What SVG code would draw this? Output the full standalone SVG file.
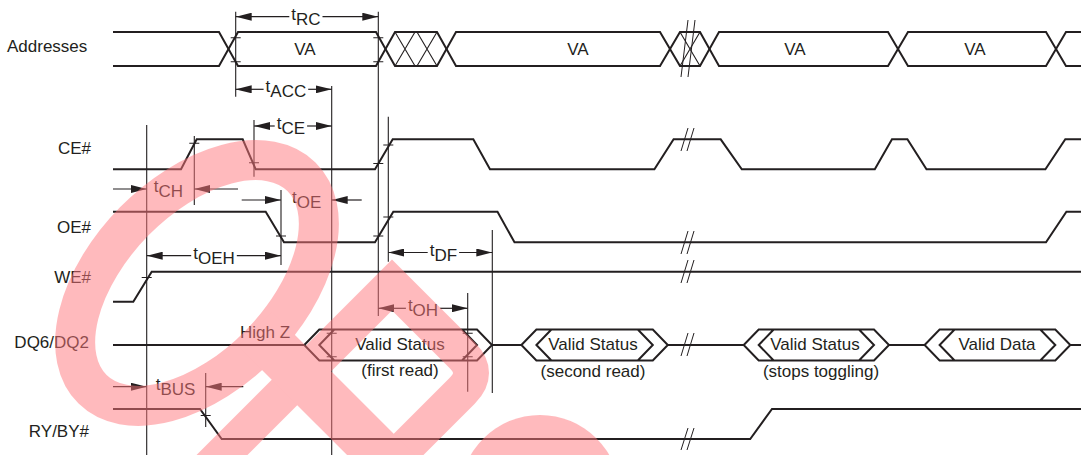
<svg xmlns="http://www.w3.org/2000/svg" width="1081" height="455" viewBox="0 0 1081 455">
<style>
text{font-family:"Liberation Sans",Arial,sans-serif;fill:#231f20;font-size:17px}
.sig{fill:none;stroke:#231f20;stroke-width:2;stroke-linejoin:miter}
.thin{fill:none;stroke:#231f20;stroke-width:1.1}
.ref{stroke:#231f20;stroke-width:1.1}
.arr{stroke:#231f20;stroke-width:1.2;marker-end:url(#ah)}
.brk{stroke:#231f20;stroke-width:1}
.lbl{text-anchor:end}
.mid{text-anchor:middle}
.wm{fill:none;stroke:#ff777d}
</style>
<defs>
<marker id="ah" viewBox="0 0 16 8" refX="16" refY="4" markerWidth="16" markerHeight="8" markerUnits="userSpaceOnUse" orient="auto"><path d="M0,0 L16,4 L0,8 z" fill="#231f20"/></marker>
</defs>
<rect width="1081" height="455" fill="#fff"/>

<g id="addresses">
<text x="7" y="52.3">Addresses</text>
<path class="sig" d="M113,32 H219 L238,66 H376 L395,32 H437 L456,66 H660 L680,32 H700 L719,66 H888 L908,32 H1046 L1066,66 H1081"/>
<path class="sig" d="M113,66 H219 L238,32 H376 L395,66 H437 L456,32 H660 L680,66 H700 L719,32 H888 L908,66 H1046 L1066,32 H1081"/>
<path class="thin" d="M395,32 L415,66 M395,66 L415,32 M417,32 L437,66 M417,66 L437,32 M680,32 L700,66 M680,66 L700,32"/>
<path class="brk" d="M681,77 L688,20 M688,77 L695,20"/>
<text class="mid" x="305" y="55">VA</text>
<text class="mid" x="578" y="55">VA</text>
<text class="mid" x="795" y="55">VA</text>
<text class="mid" x="975" y="55">VA</text>
</g>

<g id="ce">
<text class="lbl" x="91" y="154">CE#</text>
<path class="sig" d="M113,169.3 H181 L196.7,139.3 H242.7 L255.7,169.3 H375 L392.7,139.3 H473.3 L490,169.3 H654.4 L673.6,139.3 H720.7 L741.8,169.3 H874.8 L892,139.3 H907.4 L926.5,169.3 H1045.4 L1065.3,139.3 H1081"/>
<path class="brk" d="M681,151 L688,128 M687,151 L694,128"/>
</g>

<g id="oe">
<text class="lbl" x="91" y="233">OE#</text>
<path class="sig" d="M113,211.7 H265.7 L284,242.3 H375 L393.3,211.7 H497.5 L514.5,242.3 H1046 L1066.4,211.7 H1081"/>
<path class="brk" d="M681,254 L688,231 M687,254 L694,231"/>
</g>

<g id="we">
<text class="lbl" x="91" y="283">WE#</text>
<path class="sig" d="M113,301.7 H133.3 L151.7,271.7 H1081"/>
<path class="brk" d="M681,283 L688,260 M687,283 L694,260"/>
</g>

<g id="dq">
<text class="lbl" x="89" y="348">DQ6/DQ2</text>
<path class="sig" d="M113,345 H304.3 M492,345 H521.4 M667.8,345 H743.7 M889,345 H924.6 M1070.3,345 H1081"/>
<path class="sig" d="M304.3,345 L319.3,329.5 H477 L492,345 L477,360.5 H319.3 Z M334.3,329.5 L319.3,345 L334.3,360.5 M462,329.5 L477,345 L462,360.5"/>
<path class="sig" d="M521.4,345 L536.4,329.5 H652.8 L667.8,345 L652.8,360.5 H536.4 Z M551.4,329.5 L536.4,345 L551.4,360.5 M637.8,329.5 L652.8,345 L637.8,360.5"/>
<path class="sig" d="M743.7,345 L758.7,329.5 H874 L889,345 L874,360.5 H758.7 Z M773.7,329.5 L758.7,345 L773.7,360.5 M859,329.5 L874,345 L859,360.5"/>
<path class="sig" d="M924.6,345 L939.6,329.5 H1055.3 L1070.3,345 L1055.3,360.5 H939.6 Z M954.6,329.5 L939.6,345 L954.6,360.5 M1040.3,329.5 L1055.3,345 L1040.3,360.5"/>
<path class="brk" d="M681,356 L688,333 M687,356 L694,333"/>
<text x="240" y="338">High Z</text>
<text class="mid" x="400" y="350">Valid Status</text>
<text class="mid" x="400" y="376">(first read)</text>
<text class="mid" x="593" y="350">Valid Status</text>
<text class="mid" x="593" y="377">(second read)</text>
<text class="mid" x="815" y="350">Valid Status</text>
<text class="mid" x="821" y="377">(stops toggling)</text>
<text class="mid" x="997" y="350">Valid Data</text>
</g>

<g id="ry">
<text class="lbl" x="89" y="437">RY/BY#</text>
<path class="sig" d="M113,409 H200 L221.7,439 H750.2 L772,409 H1081"/>
<path class="brk" d="M681,450 L688,428 M687,450 L694,428"/>
</g>

<g id="connectors">
<path class="ref" d="M146.7,125 V455 M194.3,136 V205 M235.7,11.7 V96.7 M254,120 V176.7 M281,190 V265 M331.7,86 V455 M378.3,11.7 V316 M388.3,116.7 V261.7 M467.7,293 V391.7 M492.3,230 V393 M205.7,373 V427"/>
<path class="ref" d="M230.7,37.7 h10 M230.7,61.7 h10 M373.3,37.7 h10 M373.3,61.7 h10 M189.3,143.3 h10 M249,162.7 h10 M373.3,163.5 h10 M383.3,145 h10 M276,236 h10 M373.3,236 h10 M383.3,217 h10 M141.7,277.5 h10 M326.7,333.3 h10 M326.7,356.7 h10 M462.7,333.3 h10 M462.7,356.7 h10 M200.7,415.5 h10"/>
<line class="arr" x1="289.3" y1="16.7" x2="235.7" y2="16.7"/>
<line class="arr" x1="322.5" y1="16.7" x2="378.3" y2="16.7"/>
<line class="arr" x1="263.6" y1="89.3" x2="235.7" y2="89.3"/>
<line class="arr" x1="308.2" y1="89.3" x2="331.7" y2="89.3"/>
<line class="arr" x1="274.7" y1="126" x2="254" y2="126"/>
<line class="arr" x1="307.1" y1="126" x2="331.7" y2="126"/>
<line class="arr" x1="113" y1="189" x2="146.7" y2="189"/>
<line class="arr" x1="238" y1="189" x2="194.3" y2="189"/>
<line class="arr" x1="241.7" y1="200" x2="281" y2="200"/>
<line class="arr" x1="361.7" y1="200" x2="331.7" y2="200"/>
<line class="arr" x1="191.2" y1="255.7" x2="146.7" y2="255.7"/>
<line class="arr" x1="236.8" y1="255.7" x2="281" y2="255.7"/>
<line class="arr" x1="427.7" y1="252.5" x2="388.3" y2="252.5"/>
<line class="arr" x1="459.1" y1="252.5" x2="492.3" y2="252.5"/>
<line class="arr" x1="405.9" y1="308.3" x2="378.3" y2="308.3"/>
<line class="arr" x1="440.1" y1="308.3" x2="467.7" y2="308.3"/>
<line class="arr" x1="113" y1="386.7" x2="146.7" y2="386.7"/>
<line class="arr" x1="243.3" y1="386.7" x2="205.7" y2="386.7"/>
<text class="mid" x="305.9" y="19.7">t<tspan dy="5">RC</tspan></text>
<text class="mid" x="285.9" y="92.3">t<tspan dy="5">ACC</tspan></text>
<text class="mid" x="290.9" y="129">t<tspan dy="5">CE</tspan></text>
<text class="mid" x="168.5" y="192">t<tspan dy="5">CH</tspan></text>
<text class="mid" x="306.7" y="203">t<tspan dy="5">OE</tspan></text>
<text class="mid" x="214" y="258.7">t<tspan dy="5">OEH</tspan></text>
<text class="mid" x="443.4" y="255.5">t<tspan dy="5">DF</tspan></text>
<text class="mid" x="423" y="311.3">t<tspan dy="5">OH</tspan></text>
<text class="mid" x="175.5" y="389.7">t<tspan dy="5">BUS</tspan></text>
</g>

<g id="watermark" opacity="0.5">
<ellipse class="wm" cx="197" cy="283" rx="149" ry="88" transform="rotate(-45.5 197 283)" stroke-width="40"/>
<path class="wm" d="M197,480 L392,285 L462,355 Q480,373 462,391 L380,473" stroke-width="36" stroke-linejoin="miter"/>
<path class="wm" d="M255,329 L410,484" stroke-width="48"/>
<circle cx="540" cy="495" r="80" fill="#ff777d"/>
</g>
</svg>
